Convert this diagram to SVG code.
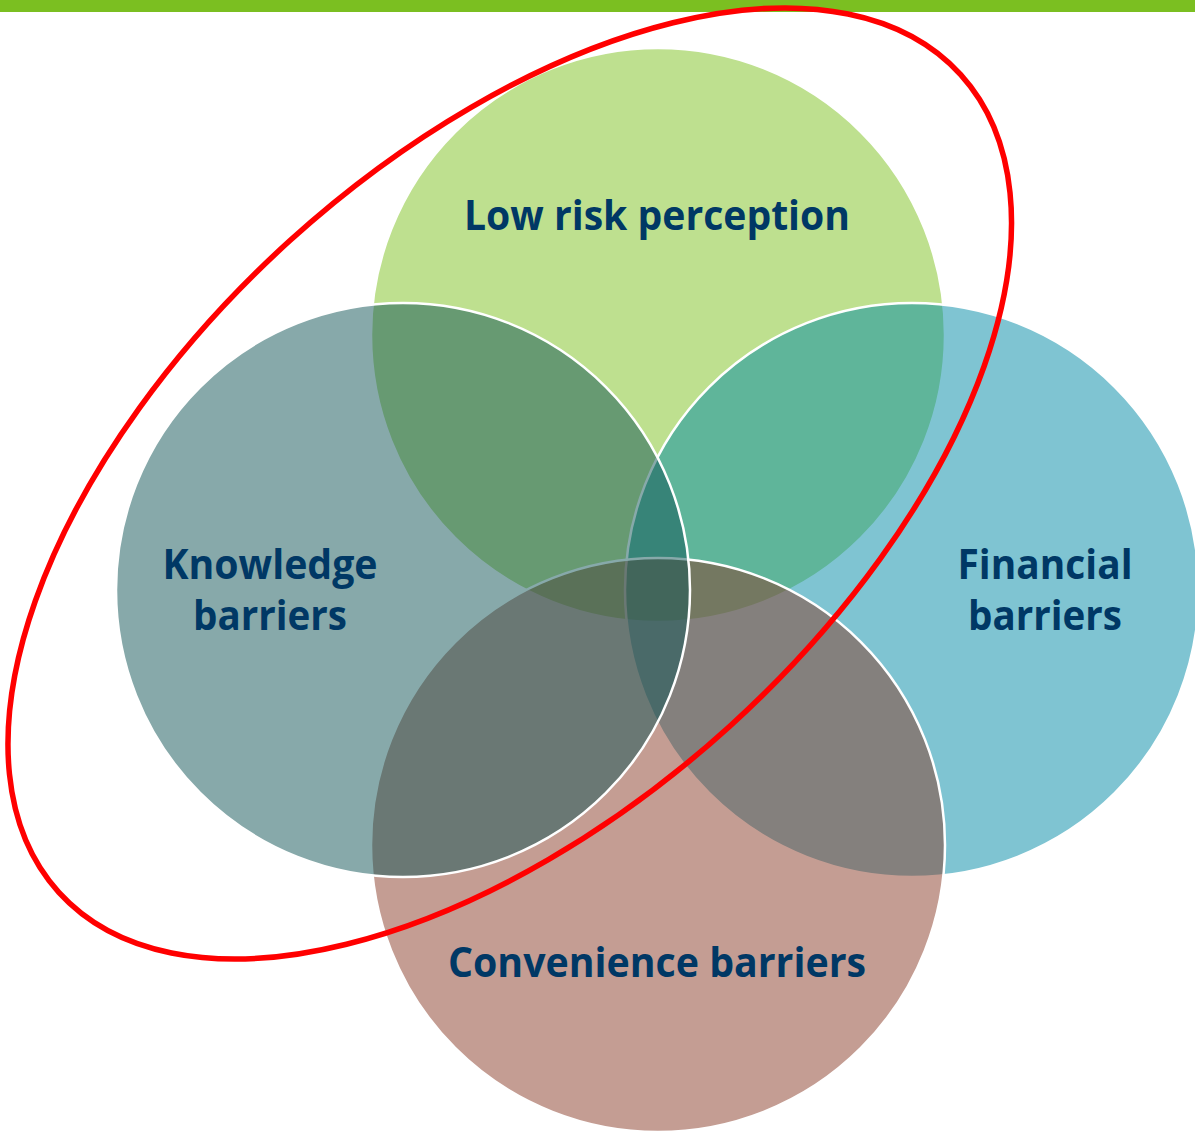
<svg xmlns="http://www.w3.org/2000/svg" width="1195" height="1131" viewBox="0 0 1195 1131">
  <style>
    .venn { fill-opacity: 0.5; stroke: #ffffff; stroke-width: 2.5; }
    .lbl { font-family: "Open Sans", Lato, "Liberation Sans", sans-serif; font-weight: bold; font-size: 41px; fill: #003865; text-anchor: middle; }
    .hl { fill: none; stroke: #ff0000; stroke-width: 5.5; }
  </style>
  <rect x="0" y="0" width="1195" height="1131" fill="#ffffff"/>
  <rect id="top-bar" x="0" y="0" width="1195" height="12" fill="#7bbf21"/>

  <g id="node-low-risk">
    <circle class="venn" cx="658" cy="335" r="287" fill="#7dc11f"/>
    <text class="lbl" x="657" y="230" textLength="386" lengthAdjust="spacingAndGlyphs">Low risk perception</text>
  </g>
  <g id="node-financial">
    <circle class="venn" cx="912" cy="590" r="287" fill="#0089a5"/>
    <text class="lbl" x="1045" y="579" textLength="175" lengthAdjust="spacingAndGlyphs">Financial</text>
    <text class="lbl" x="1045" y="630" textLength="154" lengthAdjust="spacingAndGlyphs">barriers</text>
  </g>
  <g id="node-convenience">
    <circle class="venn" cx="658" cy="845" r="287" fill="#893b27"/>
    <text class="lbl" x="657" y="977" textLength="418" lengthAdjust="spacingAndGlyphs">Convenience barriers</text>
  </g>
  <g id="node-knowledge">
    <circle class="venn" cx="403" cy="590" r="287" fill="#0f5355"/>
    <text class="lbl" x="270" y="579" textLength="215" lengthAdjust="spacingAndGlyphs">Knowledge</text>
    <text class="lbl" x="270" y="630" textLength="154" lengthAdjust="spacingAndGlyphs">barriers</text>
  </g>

  <g id="connectors"/>

  <g id="highlight">
    <ellipse class="hl" cx="509.75" cy="483.5" rx="608.7" ry="327.6" transform="rotate(-42.2 509.75 483.5)"/>
  </g>
</svg>
